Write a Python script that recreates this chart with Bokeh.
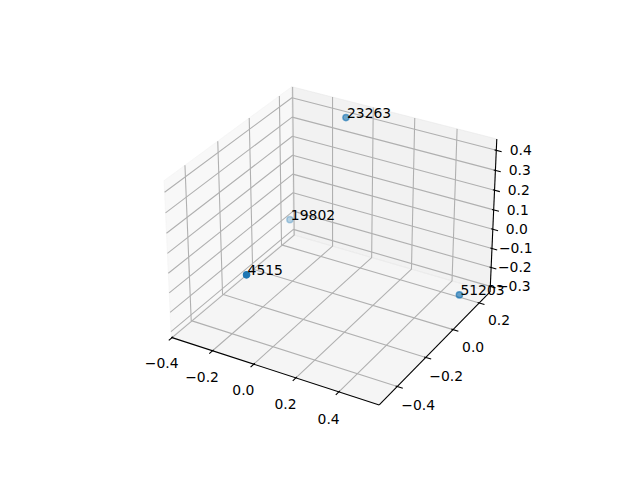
import numpy as np
from bokeh.plotting import figure
from bokeh.models import Range1d, ColumnDataSource
from bokeh.core.properties import value
from bokeh.embed import file_html
from bokeh.resources import INLINE

# ---------------- data ----------------
labels = ["4515", "19802", "23263", "51203"]
x_vals = [-0.037, -0.384, -0.068, 0.564]
y_vals = [-0.507, 0.234, 0.191, 0.073]
z_vals = [0.098, -0.208, 0.440, -0.206]

x_ticks = [-0.4, -0.2, 0.0, 0.2, 0.4]
y_ticks = [-0.4, -0.2, 0.0, 0.2]
z_ticks = [-0.3, -0.2, -0.1, 0.0, 0.1, 0.2, 0.3, 0.4]

x_lim = (-0.404, 0.584)
y_lim = (-0.523, 0.285)
z_lim = (-0.330, 0.456)

# ---------------- 3D view (matplotlib-like) ----------------
ELEV, AZIM, DIST = 30.0, -60.0, 10.0
aspect = np.array([4.0, 4.0, 3.0]) * 1.8294640721620434 / np.sqrt(41.0)
R = aspect / 2
el, az = np.radians(ELEV), np.radians(AZIM)
wdir = np.array([np.cos(el) * np.cos(az), np.cos(el) * np.sin(az), np.sin(el)])
eye = R + DIST * wdir
u = np.cross([0.0, 0.0, 1.0], wdir)
u /= np.linalg.norm(u)
v = np.cross(wdir, u)
CX, CY, SCALE = 333.0, 238.0, 2085.0


def to_box(x, y, z):
    t = (np.asarray(x, float) - x_lim[0]) / (x_lim[1] - x_lim[0])
    s = (np.asarray(y, float) - y_lim[0]) / (y_lim[1] - y_lim[0])
    r = (np.asarray(z, float) - z_lim[0]) / (z_lim[1] - z_lim[0])
    return t, s, r


def proj_box(t, s, r):
    t, s, r = np.broadcast_arrays(np.asarray(t, float), np.asarray(s, float), np.asarray(r, float))
    P = np.stack([t * aspect[0], s * aspect[1], r * aspect[2]], axis=-1) - eye
    xv = P @ u
    yv = P @ v
    D = -(P @ wdir)
    return CX + SCALE * xv / D, CY - SCALE * yv / D, D


def fmt(val):
    return f"{val:.1f}".replace("-", "\u2212")


p = figure(width=624, height=464, x_range=Range1d(0, 624), y_range=Range1d(464, 0),
           output_backend="svg", toolbar_location=None, min_border=0,
           x_axis_type=None, y_axis_type=None, outline_line_color=None)
p.grid.visible = False
p.background_fill_color = "white"
p.border_fill_color = "white"

# ---------------- panes ----------------
panes = [
    ([(0, 0, 0), (0, 1, 0), (0, 1, 1), (0, 0, 1)], (242, 242, 242)),  # x = xmin
    ([(0, 1, 0), (1, 1, 0), (1, 1, 1), (0, 1, 1)], (230, 230, 230)),  # y = ymax
    ([(0, 0, 0), (1, 0, 0), (1, 1, 0), (0, 1, 0)], (236, 236, 236)),  # z = zmin
]
for corners, col in panes:
    c = np.array(corners, float)
    px, py, _ = proj_box(c[:, 0], c[:, 1], c[:, 2])
    p.patch(list(px), list(py), fill_color=col, fill_alpha=0.5,
            line_color=col, line_alpha=0.5, line_width=1)

# ---------------- gridlines ----------------
gx, gy = [], []
tx, _, _ = to_box(x_ticks, 0, 0)
for t in tx:
    px, py, _ = proj_box([t, t, t], [0, 1, 1], [0, 0, 1])
    gx.append(list(px)); gy.append(list(py))
_, sy, _ = to_box(0, y_ticks, 0)
for s in sy:
    px, py, _ = proj_box([0, 0, 1], [s, s, s], [1, 0, 0])
    gx.append(list(px)); gy.append(list(py))
_, _, rz = to_box(0, 0, z_ticks)
for r in rz:
    px, py, _ = proj_box([1, 0, 0], [1, 1, 0], [r, r, r])
    gx.append(list(px)); gy.append(list(py))
p.multi_line(gx, gy, line_color="#b0b0b0", line_width=1.1)

# ---------------- axis lines ----------------
for (t0, s0, r0), (t1, s1, r1) in [((0, 0, 0), (1, 0, 0)), ((1, 0, 0), (1, 1, 0)), ((1, 1, 0), (1, 1, 1))]:
    px, py, _ = proj_box([t0, t1], [s0, s1], [r0, r1])
    p.line(list(px), list(py), line_color="black", line_width=1.1)

# ---------------- ticks and tick labels ----------------
OUT, IN, LBL = 0.025, 0.008, 0.083
kx, ky = [], []
lab_x, lab_y, lab_t = [], [], []
for val, t in zip(x_ticks, tx):
    px, py, _ = proj_box([t, t], [-OUT, IN], [0, 0])
    kx.append(list(px)); ky.append(list(py))
    lx, ly, _ = proj_box(t, -LBL, -LBL)
    lab_x.append(float(lx)); lab_y.append(float(ly) + 4); lab_t.append(fmt(val))
for val, s in zip(y_ticks, sy):
    px, py, _ = proj_box([1 + OUT, 1 - IN], [s, s], [0, 0])
    kx.append(list(px)); ky.append(list(py))
    lx, ly, _ = proj_box(1 + LBL, s, -LBL)
    lab_x.append(float(lx) + 3); lab_y.append(float(ly)); lab_t.append(fmt(val))
for val, r in zip(z_ticks, rz):
    px, py, _ = proj_box([1 + OUT, 1 - IN], [1, 1], [r, r])
    kx.append(list(px)); ky.append(list(py))
    lx, ly, _ = proj_box(1 + LBL, 1 + LBL, r)
    lab_x.append(float(lx) - 2); lab_y.append(float(ly) + 3.5); lab_t.append(fmt(val))
p.multi_line(kx, ky, line_color="black", line_width=1.1)
p.text(lab_x, lab_y, text=lab_t, text_font=value("DejaVu Sans"), text_font_size="13.9px",
       text_align="center", text_baseline="middle", text_color="black")

# ---------------- scatter with depth shading ----------------
t, s, r = to_box(x_vals, y_vals, z_vals)
sx, sy_, D = proj_box(t, s, r)
tz = -DIST / D
alpha = 1 - 0.7 * (tz - tz.min()) / (tz.max() - tz.min())
order = np.argsort(-D)
src = ColumnDataSource(dict(x=sx[order], y=sy_[order], a=alpha[order],
                            lab=[labels[i] for i in order]))
p.scatter("x", "y", source=src, size=6.2, marker="circle", fill_color="#1f77b4",
          fill_alpha="a", line_color="#1f77b4", line_alpha="a", line_width=1.4)
p.text(list(sx + 1), list(sy_ - 5), text=labels, text_font=value("DejaVu Sans"),
       text_font_size="13.9px", text_align="left", text_baseline="middle",
       text_color="black")

open("out.html", "w").write(file_html(p, INLINE))
